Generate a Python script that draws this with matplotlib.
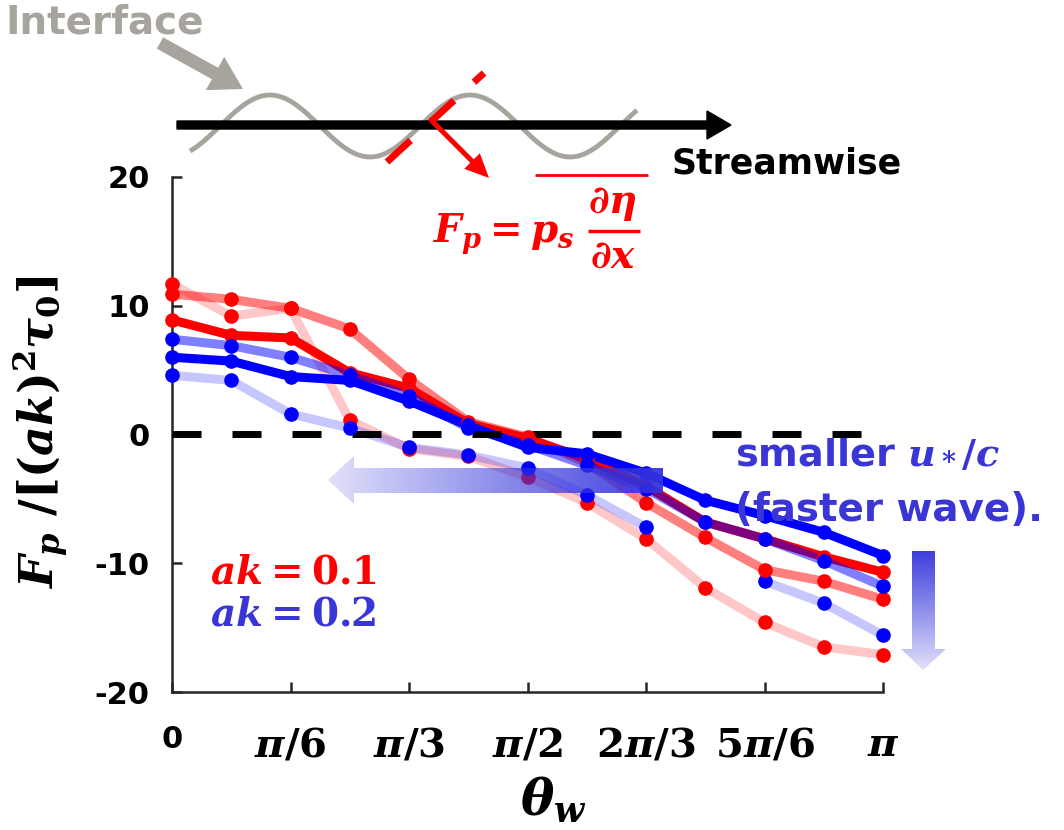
import numpy as np
import matplotlib
matplotlib.use("Agg")
import matplotlib.pyplot as plt
from matplotlib.patches import Polygon, FancyArrow

plt.rcParams['mathtext.fontset'] = 'custom'
plt.rcParams['mathtext.it'] = 'DejaVu Serif:italic:bold'
plt.rcParams['mathtext.rm'] = 'DejaVu Serif:bold'
plt.rcParams['mathtext.bf'] = 'DejaVu Serif:bold'
plt.rcParams['font.family'] = ['DejaVu Sans']

# ---------------- data ----------------
theta = [0, np.pi/12, 2*np.pi/12, 3*np.pi/12, 4*np.pi/12, 5*np.pi/12, 6*np.pi/12,
         7*np.pi/12, 8*np.pi/12, 9*np.pi/12, 10*np.pi/12, 11*np.pi/12, np.pi]
tick_pos = [0, np.pi/6, np.pi/3, np.pi/2, 2*np.pi/3, 5*np.pi/6, np.pi]
tick_labels = ['0', r'$\pi/6$', r'$\pi/3$', r'$\pi/2$', r'$2\pi/3$', r'$5\pi/6$', r'$\pi$']
y_ticks = [-20, -10, 0, 10, 20]

# ak = 0.1 (red), three u*/c levels (strong = largest u*/c, light = smallest)
red_strong = [8.9, 7.7, 7.5, 4.8, 3.6, 0.85, -0.3, -1.9, -4.0, -6.8, -8.1, -9.5, -10.7]
red_medium = [10.9, 10.5, 9.8, 8.2, 4.3, 1.0, -0.2, -2.2, -5.3, -8.0, -10.5, -11.4, -12.8]
red_light = [11.7, 9.2, 9.8, 1.1, -1.1, -1.7, -3.3, -5.3, -8.1, -11.9, -14.6, -16.5, -17.1]
# ak = 0.2 (blue)
blue_strong = [6.0, 5.7, 4.5, 4.2, 2.6, 0.7, -1.0, -1.5, -3.0, -5.1, -6.3, -7.6, -9.4]
blue_medium = [7.4, 6.9, 6.0, 4.6, 3.0, 0.5, -0.8, -2.4, -4.2, -6.8, -8.1, -9.8, -11.8]
blue_light = [4.6, 4.2, 1.6, 0.5, -1.0, -1.6, -2.6, -4.7, -7.2, np.nan, -11.4, -13.1, -15.6]

RED = (1, 0, 0)
BLUE = (0, 0, 1)
TXT_BLUE = '#3a36d6'

W, H = 1064, 830
fig = plt.figure(figsize=(W/100, H/100), dpi=100)
ax = fig.add_axes([172/W, 1-692/H, (883-172)/W, (692-177)/H])

ax.set_xlim(0, np.pi)
ax.set_ylim(-20, 20)

series = [
    (red_light, RED, 0.22, 2.0),
    (blue_light, BLUE, 0.22, 2.1),
    (red_medium, RED, 0.5, 2.2),
    (red_strong, RED, 1.0, 2.3),
    (blue_medium, BLUE, 0.5, 2.4),
    (blue_strong, BLUE, 1.0, 2.5),
]
for vals, col, a, z in series:
    ax.plot(theta, vals, color=col, alpha=a, lw=6.5, solid_capstyle='round',
            solid_joinstyle='round', zorder=z, clip_on=False)
for vals, col, a, z in series:
    ax.plot(theta, vals, linestyle='none', marker='o', ms=9.5, mfc=col, mec=col,
            zorder=z + 1.5, clip_on=False)

ax.plot([0, np.pi], [0, 0], color='black', lw=5, linestyle=(0, (4.18, 4.46)),
        dash_capstyle='butt', zorder=3.0)

for s in ['top', 'right']:
    ax.spines[s].set_visible(False)
for s in ['left', 'bottom']:
    ax.spines[s].set_color('#262626')
    ax.spines[s].set_linewidth(1.8)

ax.set_xticks(tick_pos)
ax.set_xticklabels(tick_labels)
ax.set_yticks(y_ticks)
ax.set_yticklabels([str(v) for v in y_ticks])
ax.tick_params(axis='both', direction='in', length=7, width=1.8, color='#262626')
ax.tick_params(axis='y', labelsize=22, pad=16)
ax.tick_params(axis='x', labelsize=29, pad=24)
for lab in ax.get_yticklabels():
    lab.set_fontweight('bold')
xl = ax.get_xticklabels()
xl[0].set_fontweight('bold')
xl[0].set_fontsize(22)

ax.set_xlabel(r'$\theta_w$', fontsize=36)
ax.xaxis.set_label_coords((553-172)/711, (692-800)/515)
ax.xaxis.label.set_verticalalignment('center')
ax.set_ylabel(r'$F_p\ /[(ak)^2\tau_0]$', fontsize=33)
ax.yaxis.set_label_coords((40-172)/711, (692-432)/515)
ax.yaxis.label.set_verticalalignment('center')

# ---------------- overlay (pixel coords) ----------------
ov = fig.add_axes([0, 0, 1, 1], zorder=5)
ov.set_facecolor('none')
ov.axis('off')
ov.set_xlim(0, W)
ov.set_ylim(H, 0)


def grad_arrow(verts, x0, x1, y0, y1, horizontal, dark_rgb, a_dark, a_light):
    poly = Polygon(verts, closed=True, facecolor='none', edgecolor='none')
    ov.add_patch(poly)
    n = 256
    alphas = np.linspace(a_light, a_dark, n)
    if horizontal:
        arr = np.zeros((1, n, 4))
        arr[0, :, :3] = dark_rgb
        arr[0, :, 3] = alphas
    else:
        arr = np.zeros((n, 1, 4))
        arr[:, 0, :3] = dark_rgb
        arr[:, 0, 3] = alphas[::-1]
    im = ov.imshow(arr, extent=(x0, x1, y1, y0), aspect='auto',
                   interpolation='bilinear', zorder=6)
    im.set_clip_path(poly)


dark = (0.2, 0.2, 0.86)
# horizontal arrow pointing left
grad_arrow([(328, 480), (354, 456), (354, 468), (663, 468), (663, 493),
            (354, 493), (354, 504)], 328, 663, 456, 504, True, dark, 0.95, 0.15)
# vertical arrow pointing down
grad_arrow([(912, 551), (935, 551), (935, 649), (946, 649), (923, 670),
            (901, 649), (912, 649)], 901, 946, 551, 670, False, dark, 0.95, 0.15)
ov.set_xlim(0, W)
ov.set_ylim(H, 0)

# top schematic
GRAY = '#a6a49d'
xw = np.linspace(190, 637, 300)
yw = 126 - 31 * np.cos(2 * np.pi * (xw - 270) / 200)
ov.plot(xw, yw, color=GRAY, lw=3.5, zorder=4, solid_capstyle='butt')
ov.add_patch(FancyArrow(177, 125, 554, 0, width=8, head_width=28, head_length=24,
                        length_includes_head=True, color='black', zorder=5))
ov.add_patch(FancyArrow(160, 43, 83, 46, width=13, head_width=38, head_length=32,
                        length_includes_head=True, color=GRAY, lw=0, zorder=5))
ov.plot([387, 484], [162, 73], color='red', lw=5, linestyle=(0, (4.6, 3.9)),
        dash_capstyle='butt', zorder=6)
ov.add_patch(FancyArrow(431, 120, 58, 58, width=5, head_width=22, head_length=24,
                        length_includes_head=True, color='red', lw=0, zorder=6))

ov.text(5, 22, 'Interface', color=GRAY, fontsize=28, fontweight='bold',
        ha='left', va='center')
ov.text(672, 163, 'Streamwise', color='black', fontsize=25, fontweight='bold',
        ha='left', va='center')

# formula  F_p = overline{p_s d(eta)/dx}
ov.text(433, 243, r'$F_p = p_s$', color='red', fontsize=28, ha='left',
        va='baseline')
ov.text(613, 213, r'$\partial\eta$', color='red', fontsize=28, ha='center',
        va='baseline')
ov.plot([588, 640], [231, 231], color='red', lw=2.5, solid_capstyle='butt', zorder=6)
ov.text(613, 268, r'$\partial x$', color='red', fontsize=28, ha='center',
        va='baseline')
ov.plot([535, 648], [175, 175], color='red', lw=2, solid_capstyle='butt', zorder=6)

ov.text(210, 572, r'$ak = 0.1$', color='red', fontsize=28, ha='left', va='center')
ov.text(210, 614, r'$ak = 0.2$', color=TXT_BLUE, fontsize=28, ha='left', va='center')

ov.text(735, 455, r'smaller $u_*/c$', color=TXT_BLUE, fontsize=27.5, fontweight='bold',
        ha='left', va='center')
ov.text(735, 510, '(faster wave).', color=TXT_BLUE, fontsize=28, fontweight='bold',
        ha='left', va='center')

fig.savefig('out.png', dpi=100)
